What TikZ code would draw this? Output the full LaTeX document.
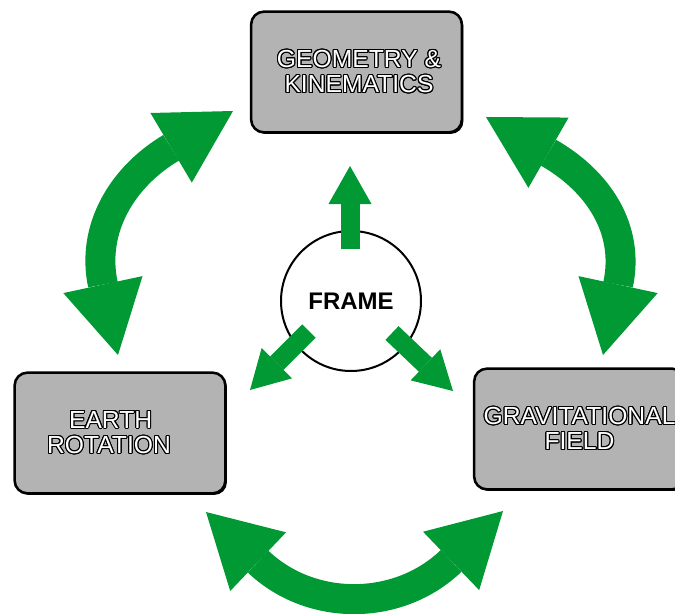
\documentclass[tikz,border=0pt]{standalone}
\usepackage{fontspec}
\setmainfont{Liberation Sans}
\usepackage{contour}
\usetikzlibrary{arrows.meta}
\definecolor{arrowgreen}{RGB}{0,153,51}
\definecolor{boxgray}{RGB}{179,179,179}
\contourlength{0.8pt}
\newcommand{\outl}[1]{\contour{black}{#1}}
\begin{document}
\begin{tikzpicture}[x=0.75pt,y=-0.75pt,
  box/.style={draw=black, line width=1.9pt, fill=boxgray, rounded corners=9.5pt,
    minimum width=158pt, minimum height=90.5pt, align=center, text=white,
    font=\fontsize{18.5pt}{19pt}\selectfont, inner sep=0pt,
    preaction={fill=black, transform canvas={xshift=1.2pt,yshift=-1.2pt}}},
  framecircle/.style={circle, draw=black, line width=1.5pt, fill=white,
    minimum size=105pt, inner sep=0pt, font=\bfseries\fontsize{18pt}{20pt}\selectfont},
  bigarrow/.style={draw=arrowgreen, line width=22.5pt,
    {Triangle[length=54pt,width=60.75pt,line width=0pt]}-{Triangle[length=54pt,width=60.75pt,line width=0pt]}},
  smallarrow/.style={draw=arrowgreen, line width=14.25pt,
    -{Triangle[length=28.5pt,width=32.25pt,line width=0pt]}}
]
\useasboundingbox (0,0) rectangle (675,614);
\clip (0,0) rectangle (675,614);

% boxes
\node[box] (geo) at (356.5,72) {\hspace*{3.75pt}\outl{GEOMETRY \&}\\\hspace*{3.75pt}\outl{KINEMATICS}};
\node[box] (earth) at (120,433) {\outl{EARTH}\hspace*{14pt}\\\outl{ROTATION}\hspace*{16.5pt}};
\node[box] (grav) at (579.5,429) {\outl{GRAVITATIONAL}\\\outl{FIELD}};

% frame
\node[framecircle] (frame) at (351,301) {FRAME};

% small arrows from the frame
\coordinate (fu0) at (350,249);
\coordinate (fu1) at (350,166);
\coordinate (fl0) at (309,331);
\coordinate (fl1) at (250,390);
\coordinate (fr0) at (392,333);
\coordinate (fr1) at (453,391);
\draw[smallarrow] (fu0) -- (fu1);
\draw[smallarrow] (fl0) -- (fl1);
\draw[smallarrow] (fr0) -- (fr1);

% big double arrows
\coordinate (le0) at (118,355);
\coordinate (le1) at (233,111);
\coordinate (ri0) at (486,117);
\coordinate (ri1) at (603,355);
\coordinate (bo0) at (206,512);
\coordinate (bo1) at (503,511);
\draw[bigarrow] (le0) .. controls (91,229) and (122,177) .. (le1);
\draw[bigarrow] (ri0) .. controls (598,181) and (630,229) .. (ri1);
\draw[bigarrow] (bo0) .. controls (311,612) and (398.5,611.5) .. (bo1);
\end{tikzpicture}
\end{document}
